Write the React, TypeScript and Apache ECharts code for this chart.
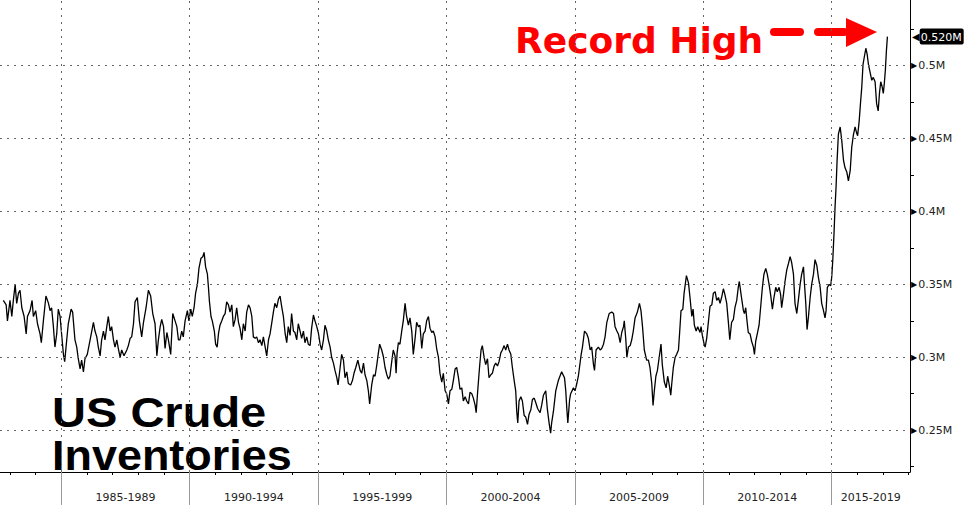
import React, { useEffect, useRef } from "react";
import * as echarts from "echarts";

// US crude inventories (in "M" as shown on the axis), [year, value]
const stocks1980s: [number, number][] = [
  [1982.74,0.339],[1982.85,0.336],[1982.90,0.325],[1983.00,0.339],[1983.07,0.328],[1983.13,0.339],[1983.20,0.350],[1983.26,0.337],[1983.33,0.344],[1983.39,0.346],
  [1983.46,0.334],[1983.55,0.328],[1983.63,0.316],[1983.68,0.328],[1983.78,0.332],[1983.86,0.339],[1983.91,0.328],[1984.00,0.332],[1984.07,0.323],[1984.17,0.316],
  [1984.22,0.310],[1984.30,0.325],[1984.40,0.342],[1984.50,0.337],[1984.56,0.332],[1984.62,0.334],[1984.69,0.321],[1984.75,0.307],[1984.82,0.316],[1984.88,0.333],
  [1984.95,0.328],[1985.01,0.316],[1985.08,0.302],[1985.13,0.297],[1985.21,0.312],[1985.27,0.323],[1985.38,0.333],[1985.44,0.331],[1985.53,0.312],[1985.60,0.307],
  [1985.66,0.299],[1985.73,0.292],[1985.79,0.298],[1985.86,0.290],[1985.92,0.299],[1986.01,0.302],[1986.12,0.312],[1986.25,0.324],[1986.31,0.318],[1986.38,0.314],
  [1986.44,0.307],[1986.51,0.301],[1986.57,0.312],[1986.64,0.318],[1986.70,0.312],[1986.77,0.321],[1986.83,0.328],[1986.90,0.318],[1986.96,0.321],[1987.03,0.312],
  [1987.09,0.307],[1987.16,0.312],[1987.22,0.306],[1987.29,0.300],[1987.35,0.305],[1987.44,0.301],[1987.55,0.305],[1987.61,0.308],[1987.68,0.313],[1987.74,0.314],
  [1987.81,0.323],[1987.87,0.338],[1987.96,0.341],[1988.04,0.325],[1988.13,0.314],[1988.20,0.324],[1988.30,0.334],[1988.39,0.346],[1988.48,0.342],[1988.56,0.330],
  [1988.65,0.323],[1988.72,0.301],[1988.78,0.312],[1988.85,0.321],[1988.91,0.326],[1988.98,0.321],[1989.04,0.306],[1989.11,0.317],[1989.17,0.312],[1989.26,0.302],
  [1989.34,0.330],[1989.43,0.325],[1989.50,0.321],[1989.56,0.312],[1989.62,0.312],[1989.69,0.318],[1989.75,0.314],[1989.82,0.325],[1989.91,0.332],[1989.97,0.325],
];

const stocks1990s: [number, number][] = [
  [1990.04,0.333],[1990.10,0.328],[1990.17,0.334],[1990.23,0.344],[1990.30,0.350],[1990.36,0.361],[1990.44,0.368],[1990.51,0.369],[1990.56,0.372],[1990.62,0.362],
  [1990.69,0.357],[1990.73,0.348],[1990.77,0.338],[1990.83,0.328],[1990.88,0.325],[1990.96,0.318],[1991.01,0.309],[1991.07,0.307],[1991.12,0.316],[1991.18,0.322],
  [1991.25,0.325],[1991.31,0.328],[1991.38,0.330],[1991.44,0.338],[1991.51,0.336],[1991.57,0.331],[1991.64,0.336],[1991.70,0.321],[1991.77,0.326],[1991.83,0.334],
  [1991.90,0.324],[1991.96,0.320],[1992.03,0.312],[1992.09,0.323],[1992.16,0.318],[1992.22,0.331],[1992.29,0.336],[1992.35,0.334],[1992.42,0.328],[1992.48,0.314],
  [1992.55,0.313],[1992.61,0.314],[1992.68,0.310],[1992.74,0.312],[1992.81,0.308],[1992.87,0.314],[1992.94,0.307],[1993.00,0.301],[1993.07,0.312],[1993.13,0.316],
  [1993.20,0.324],[1993.26,0.331],[1993.32,0.337],[1993.39,0.334],[1993.46,0.340],[1993.52,0.342],[1993.59,0.334],[1993.65,0.328],[1993.72,0.316],[1993.78,0.310],
  [1993.84,0.321],[1993.91,0.315],[1993.97,0.330],[1994.04,0.318],[1994.10,0.317],[1994.17,0.312],[1994.23,0.323],[1994.30,0.318],[1994.36,0.313],[1994.43,0.318],
  [1994.49,0.310],[1994.56,0.314],[1994.62,0.309],[1994.69,0.308],[1994.75,0.320],[1994.82,0.329],[1994.88,0.325],[1994.95,0.321],[1995.01,0.317],[1995.08,0.309],
  [1995.14,0.305],[1995.21,0.312],[1995.27,0.322],[1995.34,0.318],[1995.40,0.312],[1995.47,0.307],[1995.53,0.300],[1995.60,0.296],[1995.66,0.291],[1995.73,0.286],
  [1995.78,0.281],[1995.86,0.293],[1995.92,0.302],[1995.99,0.298],[1996.05,0.286],[1996.12,0.290],[1996.18,0.282],[1996.27,0.281],[1996.34,0.284],[1996.40,0.289],
  [1996.47,0.293],[1996.55,0.298],[1996.64,0.291],[1996.70,0.289],[1996.77,0.296],[1996.83,0.288],[1996.90,0.284],[1996.96,0.277],[1997.01,0.268],[1997.09,0.281],
  [1997.16,0.288],[1997.22,0.287],[1997.29,0.295],[1997.35,0.303],[1997.40,0.309],[1997.48,0.305],[1997.55,0.300],[1997.61,0.293],[1997.68,0.288],[1997.74,0.285],
  [1997.80,0.287],[1997.87,0.297],[1997.93,0.305],[1998.00,0.301],[1998.04,0.289],[1998.08,0.303],[1998.13,0.310],[1998.19,0.309],[1998.26,0.318],[1998.32,0.325],
  [1998.39,0.337],[1998.45,0.328],[1998.52,0.322],[1998.58,0.327],[1998.65,0.318],[1998.71,0.302],[1998.78,0.313],[1998.84,0.324],[1998.91,0.321],[1998.97,0.322],
  [1999.04,0.306],[1999.10,0.316],[1999.17,0.318],[1999.23,0.325],[1999.30,0.328],[1999.36,0.320],[1999.43,0.317],[1999.49,0.318],[1999.56,0.314],[1999.62,0.306],
  [1999.69,0.300],[1999.75,0.289],[1999.82,0.283],[1999.88,0.289],[1999.95,0.277],
];

const stocks2000s: [number, number][] = [
  [2000.01,0.275],[2000.08,0.268],[2000.14,0.277],[2000.21,0.278],[2000.27,0.284],[2000.34,0.292],[2000.40,0.293],[2000.47,0.286],[2000.53,0.278],[2000.60,0.279],
  [2000.66,0.270],[2000.73,0.273],[2000.79,0.270],[2000.86,0.268],[2000.92,0.276],[2000.99,0.275],[2001.05,0.272],[2001.12,0.267],[2001.16,0.262],[2001.22,0.277],
  [2001.29,0.293],[2001.35,0.305],[2001.40,0.308],[2001.47,0.300],[2001.53,0.295],[2001.60,0.299],[2001.66,0.286],[2001.73,0.288],[2001.79,0.289],[2001.86,0.294],
  [2001.92,0.296],[2001.99,0.294],[2002.05,0.297],[2002.12,0.303],[2002.18,0.305],[2002.25,0.308],[2002.31,0.305],[2002.38,0.309],[2002.44,0.305],[2002.51,0.302],
  [2002.57,0.293],[2002.64,0.284],[2002.70,0.277],[2002.74,0.263],[2002.78,0.255],[2002.83,0.270],[2002.90,0.273],[2002.96,0.270],[2003.03,0.260],[2003.09,0.259],
  [2003.16,0.254],[2003.22,0.261],[2003.29,0.264],[2003.35,0.271],[2003.42,0.272],[2003.48,0.269],[2003.55,0.265],[2003.58,0.264],[2003.65,0.262],[2003.71,0.267],
  [2003.78,0.274],[2003.87,0.277],[2003.93,0.265],[2004.00,0.255],[2004.06,0.248],[2004.10,0.255],[2004.17,0.263],[2004.26,0.277],[2004.36,0.284],[2004.49,0.290],
  [2004.60,0.286],[2004.65,0.277],[2004.69,0.265],[2004.73,0.255],[2004.80,0.271],[2004.84,0.275],[2004.95,0.279],[2005.01,0.277],[2005.08,0.282],[2005.14,0.287],
  [2005.25,0.302],[2005.30,0.307],[2005.38,0.318],[2005.47,0.316],[2005.53,0.313],[2005.60,0.305],[2005.66,0.307],[2005.73,0.295],[2005.77,0.291],[2005.83,0.305],
  [2005.92,0.307],[2005.99,0.305],[2006.05,0.306],[2006.12,0.309],[2006.18,0.314],[2006.25,0.324],[2006.34,0.330],[2006.44,0.331],[2006.51,0.330],[2006.57,0.321],
  [2006.64,0.318],[2006.70,0.316],[2006.77,0.310],[2006.83,0.317],[2006.90,0.321],[2006.93,0.325],[2006.99,0.312],[2007.03,0.300],[2007.09,0.307],[2007.16,0.308],
  [2007.22,0.312],[2007.28,0.318],[2007.35,0.327],[2007.44,0.331],[2007.52,0.337],[2007.58,0.332],[2007.64,0.321],[2007.71,0.305],[2007.80,0.298],[2007.87,0.298],
  [2007.93,0.293],[2008.00,0.282],[2008.05,0.267],[2008.10,0.277],[2008.16,0.287],[2008.22,0.291],[2008.29,0.300],[2008.36,0.309],[2008.41,0.295],[2008.49,0.283],
  [2008.56,0.279],[2008.62,0.287],[2008.69,0.280],[2008.74,0.274],[2008.78,0.282],[2008.84,0.293],[2008.91,0.300],[2008.97,0.302],[2009.04,0.305],[2009.09,0.318],
  [2009.14,0.332],[2009.21,0.333],[2009.26,0.344],[2009.35,0.356],[2009.43,0.351],[2009.49,0.341],[2009.56,0.328],[2009.61,0.333],[2009.66,0.322],[2009.73,0.318],
  [2009.79,0.321],[2009.88,0.317],[2009.92,0.321],[2009.97,0.315],
];

const stocks2010s: [number, number][] = [
  [2010.04,0.309],[2010.08,0.307],[2010.14,0.313],[2010.21,0.325],[2010.27,0.335],[2010.34,0.336],[2010.40,0.344],[2010.47,0.345],[2010.53,0.339],[2010.60,0.341],
  [2010.66,0.337],[2010.72,0.341],[2010.79,0.347],[2010.85,0.343],[2010.92,0.337],[2010.98,0.325],[2011.04,0.312],[2011.11,0.324],[2011.18,0.326],[2011.24,0.334],
  [2011.31,0.339],[2011.37,0.348],[2011.41,0.352],[2011.48,0.343],[2011.57,0.332],[2011.61,0.330],[2011.66,0.334],[2011.71,0.325],[2011.76,0.317],[2011.83,0.316],
  [2011.89,0.311],[2011.96,0.307],[2012.00,0.302],[2012.05,0.311],[2012.11,0.316],[2012.18,0.322],[2012.24,0.334],[2012.31,0.348],[2012.37,0.357],[2012.44,0.361],
  [2012.50,0.357],[2012.57,0.350],[2012.63,0.343],[2012.70,0.333],[2012.76,0.341],[2012.83,0.348],[2012.89,0.345],[2012.96,0.348],[2013.02,0.343],[2013.06,0.334],
  [2013.13,0.343],[2013.19,0.352],[2013.26,0.360],[2013.32,0.364],[2013.39,0.369],[2013.45,0.365],[2013.52,0.357],[2013.58,0.337],[2013.65,0.330],[2013.71,0.339],
  [2013.78,0.350],[2013.84,0.357],[2013.91,0.362],[2013.95,0.350],[2014.00,0.337],[2014.05,0.319],[2014.10,0.327],[2014.17,0.341],[2014.23,0.350],[2014.30,0.357],
  [2014.36,0.367],[2014.43,0.363],[2014.49,0.355],[2014.56,0.348],[2014.62,0.337],[2014.69,0.332],[2014.75,0.327],[2014.79,0.332],[2014.84,0.348],[2014.91,0.350],
  [2014.97,0.349],[2015.01,0.355],[2015.05,0.366],[2015.10,0.385],[2015.14,0.403],[2015.18,0.417],[2015.22,0.435],[2015.27,0.453],[2015.34,0.458],[2015.40,0.449],
  [2015.47,0.435],[2015.53,0.430],[2015.60,0.427],[2015.66,0.421],[2015.73,0.428],[2015.79,0.444],[2015.85,0.452],[2015.92,0.458],[2015.98,0.454],[2016.02,0.452],
  [2016.08,0.462],[2016.13,0.474],[2016.18,0.485],[2016.23,0.501],[2016.28,0.506],[2016.34,0.512],[2016.39,0.508],[2016.44,0.501],[2016.50,0.496],[2016.57,0.490],
  [2016.63,0.492],[2016.70,0.489],[2016.76,0.474],[2016.82,0.469],[2016.87,0.481],[2016.92,0.489],[2016.97,0.486],[2017.02,0.481],[2017.06,0.488],[2017.10,0.497],
  [2017.14,0.510],[2017.18,0.520],
];

const periodStarts = [1985, 1990, 1995, 2000, 2005, 2010, 2015];
const periodLabels = ["1985-1989", "1990-1994", "1995-1999", "2000-2004", "2005-2009", "2010-2014", "2015-2019"];
const periodLabelAt = [1987.5, 1992.5, 1997.5, 2002.5, 2007.5, 2012.5, 2016.53];
const yearTicks = [1983, 1984, 1985, 1986, 1987, 1988, 1989, 1990, 1991, 1992, 1993, 1994, 1995, 1996, 1997, 1998, 1999,
  2000, 2001, 2002, 2003, 2004, 2005, 2006, 2007, 2008, 2009, 2010, 2011, 2012, 2013, 2014, 2015, 2016, 2017, 2018];
const valueTicks = [0.25, 0.3, 0.35, 0.4, 0.45, 0.5];
const minorValueTicks = [0.225, 0.275, 0.325, 0.375, 0.425, 0.475, 0.525];
const lastValue = 0.52;
const X_MIN = 1982.61;
const X_MAX = 2018.06;
const Y_MIN = 0.2213;
const Y_MAX = 0.5451;

const AXIS_FONT = '"DejaVu Sans", Verdana, sans-serif';

export default function App() {
  const ref = useRef<HTMLDivElement>(null);

  useEffect(() => {
    if (!ref.current) return;
    const chart = echarts.init(ref.current, null, { renderer: "svg" });
    const data = [...stocks1980s, ...stocks1990s, ...stocks2000s, ...stocks2010s];
    const fmtM = (v: number) => `${parseFloat(Number(v).toFixed(3))}M`;
    const dotted = { type: [2, 5] as any, color: "#666", width: 1 };

    chart.setOption({
      animation: false,
      backgroundColor: "#ffffff",
      grid: { left: 0, right: 55, top: 0, bottom: 39, outerBoundsMode: "none" },
      xAxis: [
        {
          type: "value",
          min: X_MIN,
          max: X_MAX,
          position: "bottom",
          axisLine: { show: true, lineStyle: { color: "#000", width: 1 } },
          axisTick: { show: true, customValues: yearTicks, length: 3, lineStyle: { color: "#000" } },
          axisLabel: {
            show: true,
            customValues: periodLabelAt,
            margin: 20,
            fontFamily: AXIS_FONT,
            fontSize: 11,
            color: "#222",
            formatter: (v: number) => {
              let best = 0;
              periodLabelAt.forEach((p, i) => {
                if (Math.abs(p - v) < Math.abs(periodLabelAt[best] - v)) best = i;
              });
              return periodLabels[best];
            },
          },
          splitLine: { show: false },
        },
        {
          type: "value",
          min: X_MIN,
          max: X_MAX,
          position: "bottom",
          axisLine: { show: false },
          axisTick: { show: true, customValues: periodStarts, length: 33, lineStyle: { color: "#999" } },
          axisLabel: { show: false },
          splitLine: { show: false },
        },
      ],
      yAxis: {
        type: "value",
        position: "right",
        min: Y_MIN,
        max: Y_MAX,
        axisLine: { show: true, lineStyle: { color: "#000", width: 1 } },
        axisTick: { show: true, customValues: minorValueTicks, length: 4, lineStyle: { color: "#000" } },
        axisLabel: {
          show: true,
          customValues: valueTicks,
          margin: 1,
          formatter: (v: number) => `{t|▶}{v|${fmtM(v)}}`,
          rich: {
            t: { fontSize: 8, color: "#000", fontFamily: AXIS_FONT },
            v: { fontSize: 11, color: "#222", fontFamily: AXIS_FONT, padding: [0, 0, 0, 1] },
          },
        },
        splitLine: { show: false },
      },
      series: [
        {
          type: "line",
          data,
          showSymbol: false,
          symbol: "none",
          lineStyle: { color: "#000", width: 1.3 },
          markLine: {
            silent: true,
            symbol: "none",
            label: { show: false },
            lineStyle: dotted,
            data: [
              ...periodStarts.map((x) => ({ xAxis: x })),
              ...valueTicks.map((y) => ({ yAxis: y })),
            ],
          },
        },
        {
          type: "line",
          data: [],
          markLine: {
            silent: true,
            symbol: "none",
            lineStyle: { color: "rgba(0,0,0,0)", width: 0 },
            label: {
              show: true,
              position: "end",
              distance: 2,
              formatter: () => `{a|◀}{b|${lastValue.toFixed(3)}M}`,
              rich: {
                a: { fontSize: 10, color: "#000", fontFamily: AXIS_FONT },
                b: {
                  fontSize: 11,
                  color: "#fff",
                  fontFamily: AXIS_FONT,
                  backgroundColor: "#000",
                  padding: [3, 2, 2, 1],
                  borderRadius: 2,
                },
              },
            },
            data: [{ yAxis: lastValue }],
          },
        },
      ],
      graphic: [
        {
          type: "text",
          x: 515,
          y: 40,
          style: {
            text: "Record High",
            fill: "#ff0000",
            font: 'bold 36px "DejaVu Sans", Verdana, sans-serif',
            verticalAlign: "middle",
            align: "left",
          },
        },
        {
          type: "rect",
          shape: { x: 770, y: 28, width: 34, height: 8, r: 4 },
          style: { fill: "#ff0000" },
        },
        {
          type: "rect",
          shape: { x: 814, y: 28, width: 34, height: 8, r: 4 },
          style: { fill: "#ff0000" },
        },
        {
          type: "polygon",
          shape: { points: [[846, 18], [877, 32], [846, 47]] },
          style: { fill: "#ff0000" },
        },
        {
          type: "text",
          x: 52,
          y: 412,
          scaleX: 1.12,
          style: {
            text: "US Crude",
            fill: "#000",
            font: 'bold 42px "Liberation Sans", Arial, sans-serif',
            verticalAlign: "middle",
            align: "left",
          },
        },
        {
          type: "text",
          x: 52,
          y: 456,
          scaleX: 1.07,
          style: {
            text: "Inventories",
            fill: "#000",
            font: 'bold 42px "Liberation Sans", Arial, sans-serif',
            verticalAlign: "middle",
            align: "left",
          },
        },
      ],
    });

    return () => chart.dispose();
  }, []);

  return (
    <div
      ref={ref}
      style={{ position: "absolute", left: 0, top: 0, width: 965, height: 511, background: "#fff" }}
    />
  );
}
